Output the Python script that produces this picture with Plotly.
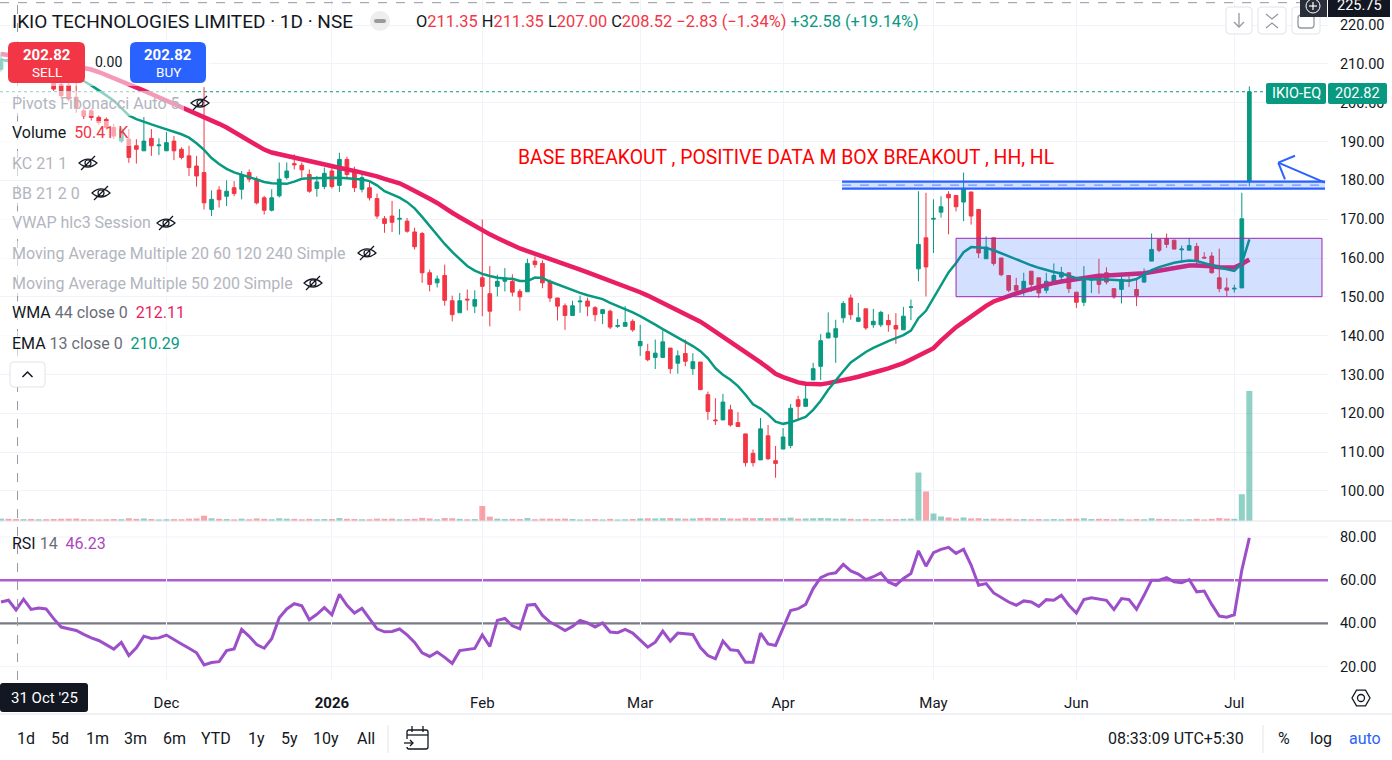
import math
import plotly.graph_objects as go
import pandas as pd

# ---------------------------------------------------------------- data
holidays = ['2025-11-05', '2025-12-25', '2026-01-15', '2026-01-26', '2026-03-03',
            '2026-03-26', '2026-03-31', '2026-04-03', '2026-04-14', '2026-05-01',
            '2026-05-28', '2026-06-26']
extra_sessions = ['2026-02-01']
_days = [d.strftime('%Y-%m-%d') for d in pd.bdate_range('2025-10-29', '2026-07-03')]
dates = sorted([d for d in _days if d not in holidays] + extra_sessions)

opens = [208.6, 211.2, 211.35, 208.5, 209.6, 207.0, 207.4, 205.2, 204.7, 204.5,
         201.4, 197.9, 197.9, 196.2, 195.7, 193.6, 190.1, 190.6, 188.9, 187.6,
         190.8, 188.9, 187.6, 190.1, 188.0, 186.3, 183.7, 182.0, 172.5, 177.5,
         175.9, 178.1, 177.7, 182.0, 180.3, 175.5, 172.3, 176.0, 180.7, 184.3,
         183.9, 181.5, 177.9, 178.4, 182.4, 178.7, 185.4, 182.7, 177.7, 178.1,
         175.3, 170.1, 170.8, 170.0, 169.5, 166.7, 166.3, 156.2, 153.6, 155.5,
         149.0, 145.9, 149.4, 147.6, 154.9, 150.8, 152.7, 154.0, 154.0, 151.4,
         151.3, 159.2, 158.6, 153.8, 149.7, 147.7, 145.2, 148.7, 148.9, 147.2,
         145.7, 146.3, 142.4, 142.4, 143.7, 137.4, 135.9, 134.4, 134.4, 136.8,
         132.9, 135.4, 131.5, 133.2, 124.8, 118.3, 118.3, 120.9, 117.6, 114.7,
         109.7, 108.0, 114.2, 107.8, 110.8, 111.7, 123.5, 121.8, 128.6, 132.1,
         139.4, 139.6, 144.6, 149.7, 143.7, 146.9, 142.8, 142.8, 143.9, 142.6,
         141.5, 147.3, 157.2, 165.2, 170.0, 171.8, 176.4, 176.1, 174.4, 177.0,
         172.5, 159.8, 165.2, 160.0, 155.5, 152.9, 151.7, 156.6, 154.9, 151.7,
         154.0, 155.1, 156.2, 151.2, 148.6, 154.3, 155.7, 156.2, 152.1, 151.9,
         154.3, 151.9, 153.8, 159.2, 164.8, 165.0, 164.6, 162.1, 162.0, 163.0,
         160.2, 160.5, 154.9, 152.3, 152.0, 152.3, 179.8]

highs = [213.0, 212.6, 211.35, 210.2, 210.0, 208.4, 207.6, 206.0, 205.5, 205.2,
         205.2, 198.5, 198.5, 196.8, 196.2, 194.5, 193.6, 193.2, 190.6, 196.3,
         193.2, 190.8, 192.4, 191.4, 188.5, 188.9, 186.3, 204.0, 177.4, 178.5,
         180.0, 179.8, 182.4, 182.8, 181.0, 176.0, 177.7, 184.6, 184.6, 186.7,
         184.6, 182.8, 181.1, 183.3, 184.2, 187.1, 186.1, 183.5, 181.5, 180.0,
         176.6, 170.8, 174.7, 172.6, 170.3, 167.8, 166.7, 157.0, 155.5, 158.3,
         150.3, 151.0, 151.9, 151.7, 169.9, 157.9, 155.7, 157.4, 155.8, 152.0,
         159.8, 160.4, 159.4, 154.5, 149.7, 148.3, 149.0, 150.3, 149.8, 147.6,
         146.9, 146.7, 144.3, 147.6, 144.2, 142.8, 137.9, 139.0, 141.4, 136.8,
         136.2, 139.0, 135.5, 133.2, 125.6, 123.9, 125.0, 122.2, 120.3, 114.7,
         110.7, 118.8, 117.0, 111.6, 116.2, 122.4, 124.5, 127.8, 133.0, 140.4,
         146.0, 144.1, 148.9, 150.6, 148.4, 146.9, 146.9, 146.4, 145.5, 145.8,
         147.4, 149.3, 177.2, 176.8, 175.1, 175.9, 177.2, 176.1, 182.0, 177.0,
         172.5, 165.6, 165.2, 160.0, 155.5, 154.9, 156.2, 156.6, 154.9, 156.2,
         158.6, 157.7, 156.2, 151.2, 157.9, 155.5, 159.8, 157.6, 152.1, 156.2,
         155.5, 154.5, 157.3, 166.3, 164.8, 166.3, 164.6, 163.2, 165.2, 163.9,
         161.5, 161.5, 162.4, 154.9, 153.1, 176.8, 204.2]

lows = [208.0, 209.8, 207.0, 207.4, 206.6, 206.2, 205.4, 203.0, 201.0, 200.3,
        197.4, 195.8, 195.4, 194.3, 193.0, 190.6, 189.6, 184.5, 184.3, 187.6,
        186.3, 186.5, 187.6, 185.2, 185.4, 181.1, 178.4, 172.5, 170.8, 173.0,
        173.4, 175.9, 175.1, 179.5, 173.8, 171.2, 172.0, 175.6, 180.2, 182.8,
        180.8, 176.8, 175.8, 177.7, 177.9, 177.0, 180.7, 177.0, 176.9, 174.8,
        170.1, 166.5, 166.7, 166.0, 166.5, 162.2, 153.6, 151.4, 152.4, 147.7,
        143.7, 145.9, 146.5, 145.8, 145.0, 142.4, 150.1, 151.4, 150.1, 146.4,
        151.3, 157.5, 152.2, 148.7, 143.9, 141.5, 145.2, 145.9, 145.0, 143.7,
        143.0, 141.7, 142.0, 142.4, 141.0, 134.8, 133.4, 131.4, 134.4, 130.2,
        130.2, 132.1, 129.9, 126.0, 118.3, 117.0, 118.3, 116.6, 116.6, 106.3,
        106.3, 108.0, 108.0, 103.4, 110.8, 111.0, 118.1, 121.8, 128.6, 128.6,
        139.4, 133.0, 143.3, 144.1, 143.5, 141.5, 142.0, 142.2, 141.0, 137.9,
        141.5, 144.0, 154.0, 150.1, 161.3, 170.4, 166.1, 172.0, 169.5, 168.6,
        160.0, 159.8, 158.0, 155.3, 151.2, 151.0, 150.3, 151.3, 149.7, 150.9,
        153.6, 153.5, 151.0, 147.1, 147.6, 151.0, 150.8, 153.2, 149.5, 148.3,
        152.5, 147.6, 153.6, 159.2, 161.5, 162.6, 162.2, 158.7, 162.0, 157.5,
        159.8, 156.0, 151.2, 150.1, 151.1, 152.3, 178.5]

closes = [211.2, 211.0, 208.52, 209.6, 207.0, 207.4, 205.8, 203.5, 201.8, 200.9,
          198.8, 196.6, 196.2, 194.9, 193.6, 191.4, 193.2, 185.9, 188.0, 190.1,
          188.9, 189.1, 189.7, 187.6, 185.9, 183.3, 181.1, 174.2, 175.1, 175.0,
          177.2, 176.6, 181.5, 180.3, 174.2, 172.3, 175.5, 180.3, 182.4, 184.0,
          182.7, 177.2, 179.6, 181.8, 178.4, 185.4, 181.5, 178.1, 180.7, 175.5,
          170.8, 168.9, 169.2, 170.2, 166.9, 162.9, 156.2, 153.2, 154.6, 149.1,
          145.4, 149.0, 149.2, 149.3, 152.7, 146.3, 154.0, 154.9, 151.2, 150.0,
          158.6, 158.3, 153.6, 149.7, 147.6, 145.2, 147.7, 148.9, 147.6, 145.4,
          146.7, 142.2, 142.6, 143.4, 141.5, 138.5, 133.8, 135.5, 138.4, 131.5,
          134.8, 133.4, 133.3, 126.1, 120.5, 118.1, 122.9, 117.0, 116.6, 107.3,
          107.3, 116.0, 108.3, 107.1, 113.9, 121.3, 121.8, 123.7, 131.5, 138.7,
          140.7, 141.8, 148.3, 145.4, 144.6, 142.0, 143.7, 146.0, 142.8, 141.7,
          145.0, 147.4, 163.5, 157.7, 170.2, 173.2, 175.5, 173.2, 177.9, 170.8,
          161.3, 162.8, 158.6, 155.7, 151.7, 151.7, 154.0, 153.2, 151.0, 154.0,
          155.5, 156.3, 152.1, 148.6, 154.2, 154.5, 153.2, 153.8, 150.0, 154.5,
          154.1, 150.3, 155.5, 162.2, 162.0, 163.5, 162.3, 162.3, 163.2, 159.4,
          160.0, 156.2, 152.1, 151.7, 152.2, 170.1, 202.82]

volumes_k = [60, 55, 50.41, 48, 52, 45, 47, 50, 55, 58,
             62, 48, 45, 42, 45, 50, 46, 70, 55, 65,
             50, 40, 45, 48, 45, 60, 65, 135, 70, 55,
             50, 42, 60, 45, 65, 55, 45, 70, 60, 55,
             45, 55, 45, 50, 50, 75, 55, 50, 45, 45,
             60, 55, 60, 45, 50, 55, 80, 65, 45, 75,
             70, 55, 45, 50, 380, 110, 60, 50, 55, 50,
             75, 45, 60, 60, 55, 60, 50, 40, 45, 50,
             40, 55, 40, 45, 50, 65, 70, 65, 70, 75,
             65, 60, 65, 75, 80, 70, 75, 65, 60, 80,
             70, 75, 70, 75, 70, 85, 60, 65, 70, 75,
             70, 60, 65, 55, 45, 55, 45, 50, 45, 50,
             55, 60, 1230, 750, 190, 115, 90, 60, 90, 65,
             70, 55, 60, 55, 60, 45, 50, 45, 50, 45,
             50, 45, 55, 60, 70, 50, 55, 50, 45, 55,
             40, 50, 45, 70, 55, 50, 45, 40, 45, 55,
             40, 55, 75, 60, 55, 680, 3300]

wma44 = [212.52, 212.31, 212.10, 211.85, 211.51, 211.18, 210.84, 210.50, 210.14, 209.81,
         209.47, 209.14, 208.54, 207.90, 207.15, 206.37, 205.60, 204.80, 203.95, 203.10,
         202.24, 201.39, 200.54, 199.72, 198.94, 198.17, 197.39, 196.52, 195.53, 194.55,
         193.60, 192.51, 191.35, 190.19, 189.03, 187.92, 187.17, 186.71, 186.24, 185.78,
         185.31, 184.88, 184.44, 183.97, 183.54, 183.17, 182.79, 182.43, 182.06, 181.63,
         181.03, 180.39, 179.79, 179.23, 178.27, 177.37, 176.31, 175.25, 174.17, 173.08,
         171.66, 170.50, 169.34, 168.16, 167.07, 166.09, 165.14, 164.15, 163.17, 162.45,
         161.78, 161.14, 160.47, 159.80, 159.12, 158.43, 157.73, 157.03, 156.28, 155.56,
         155.05, 154.30, 153.55, 152.82, 152.10, 151.18, 150.32, 149.34, 148.46, 147.56,
         146.61, 145.65, 144.67, 143.61, 142.35, 141.08, 139.82, 138.55, 137.26, 135.89,
         134.53, 133.13, 131.69, 130.20, 129.34, 128.67, 127.97, 127.64, 127.43, 127.46,
         127.77, 128.10, 128.54, 128.98, 129.42, 129.86, 130.42, 131.02, 131.59, 132.18,
         132.93, 133.86, 134.79, 135.72, 136.78, 138.71, 140.65, 142.19, 143.54, 144.96,
         146.33, 147.67, 148.80, 149.58, 150.27, 150.86, 151.46, 152.03, 152.62, 153.11,
         153.58, 153.94, 154.27, 154.63, 154.99, 155.33, 155.41, 155.48, 155.59, 155.72,
         155.79, 155.87, 156.08, 156.39, 156.72, 157.11, 157.50, 157.76, 158.04, 158.07,
         158.07, 157.89, 157.63, 157.47, 157.55, 158.45, 159.61]

ema13 = [211.10, 210.71, 210.30, 209.78, 209.24, 208.72, 208.21, 207.69, 207.15, 206.63,
         206.12, 205.57, 204.44, 203.22, 201.88, 200.52, 198.58, 196.72, 195.77, 194.99,
         194.40, 193.78, 193.19, 192.52, 191.87, 190.99, 189.55, 187.84, 185.73, 184.18,
         182.94, 182.06, 181.42, 180.78, 180.18, 179.59, 179.23, 179.07, 179.10, 179.66,
         180.39, 180.52, 180.57, 180.65, 180.70, 180.65, 180.52, 180.39, 180.21, 179.79,
         178.71, 177.21, 176.39, 175.56, 174.38, 172.77, 170.58, 168.26, 165.81, 163.61,
         161.55, 159.61, 157.93, 156.77, 155.92, 155.35, 154.89, 154.71, 154.63, 154.06,
         154.06, 154.97, 154.84, 153.94, 153.16, 152.39, 151.74, 151.02, 150.40, 149.83,
         149.42, 148.44, 147.67, 146.87, 145.99, 145.03, 144.00, 142.84, 141.68, 140.64,
         139.53, 138.45, 137.32, 136.00, 134.19, 131.61, 129.94, 128.65, 127.02, 124.77,
         122.30, 121.21, 119.74, 117.86, 117.29, 117.68, 118.32, 119.10, 120.90, 123.23,
         126.07, 128.52, 130.84, 133.09, 134.45, 135.79, 136.83, 137.78, 138.61, 139.36,
         140.13, 141.29, 144.50, 146.40, 149.80, 153.10, 156.30, 158.70, 161.50, 162.80,
         162.70, 162.60, 162.00, 161.21, 160.44, 159.67, 158.89, 158.12, 157.47, 156.88,
         156.39, 156.00, 155.49, 154.82, 154.61, 154.45, 154.45, 154.45, 154.37, 154.30,
         154.14, 154.58, 155.79, 156.90, 157.65, 158.24, 158.79, 159.10, 159.36, 159.23,
         158.74, 158.17, 157.55, 157.03, 156.67, 158.60, 164.80]

rsi14 = [49.9, 50.7, 46.23, 51.2, 46.5, 47.1, 46.7, 42.2, 38.3, 37.5,
         36.7, 34.9, 33.3, 32.1, 30.2, 28.1, 31.2, 25.1, 28.7, 34.1,
         33.0, 33.3, 34.6, 32.7, 30.5, 28.5, 26.4, 20.8, 21.9, 22.3,
         27.4, 28.2, 37.2, 34.0, 30.2, 28.5, 32.9, 42.6, 46.7, 49.1,
         48.2, 41.7, 44.2, 47.3, 44.0, 53.5, 48.4, 44.8, 47.0, 42.2,
         37.5, 36.1, 36.3, 37.4, 34.7, 31.2, 26.4, 24.7, 26.8, 24.3,
         21.5, 27.4, 27.9, 28.4, 34.7, 29.3, 41.4, 42.3, 38.9, 37.5,
         48.4, 48.8, 43.7, 40.6, 38.8, 36.7, 38.6, 41.4, 40.2, 38.3,
         40.2, 36.0, 35.7, 37.2, 35.5, 32.1, 29.0, 31.3, 36.4, 31.8,
         35.5, 35.2, 34.9, 28.8, 25.1, 23.6, 31.8, 27.8, 27.4, 22.0,
         22.0, 35.5, 30.5, 29.8, 38.3, 46.0, 46.8, 48.8, 56.1, 61.2,
         62.8, 63.4, 67.3, 64.3, 62.8, 60.3, 61.6, 63.4, 59.2, 57.7,
         60.8, 63.1, 73.6, 66.5, 72.7, 74.3, 75.2, 72.4, 74.3, 67.0,
         57.7, 58.4, 54.1, 51.9, 49.9, 48.4, 50.4, 49.9, 47.9, 51.0,
         50.7, 53.0, 48.4, 44.8, 51.0, 51.9, 51.3, 50.7, 46.4, 51.5,
         51.0, 46.5, 53.0, 60.0, 60.0, 61.2, 59.2, 58.8, 60.3, 54.6,
         55.0, 48.8, 43.4, 42.9, 44.0, 64.7, 79.6]

month_keys = ['2025-12', '2026-01', '2026-02', '2026-03', '2026-04', '2026-05', '2026-06', '2026-07']
month_labels = ['Dec', '<b>2026</b>', 'Feb', 'Mar', 'Apr', 'May', 'Jun', 'Jul']
price_ticks = [100, 110, 120, 130, 140, 150, 160, 170, 180, 190, 200, 210, 220]
rsi_ticks = [20, 40, 60, 80]
rsi_grid = [20, 80]
rsi_upper, rsi_lower = 60, 40
last_price = 202.82
crosshair_price = 225.75
crosshair_bar = 2
box_low, box_high = 150.03, 165.07
channel_low, channel_high = 177.85, 179.65

# ---------------------------------------------------------------- helpers
PW, PH = 1328, 680
FONT = 'Roboto'
DARK = '#131722'
GRAY = '#b2b5be'


def px(x):
    return x / PW


def py(y):
    return 1 - y / PH


shapes = []
ann = []


def T(x, y, text, size=16, color=DARK, xanchor='left'):
    ann.append(dict(x=px(x), y=py(y), xref='paper', yref='paper', text=text,
                    showarrow=False, xanchor=xanchor, yanchor='middle',
                    font=dict(size=size, color=color, family=FONT)))


def rect_px(x0, y0, x1, y1, fill, line='rgba(0,0,0,0)', width=0):
    shapes.append(dict(type='rect', xref='paper', yref='paper', x0=px(x0), x1=px(x1),
                       y0=py(y1), y1=py(y0), fillcolor=fill,
                       line=dict(color=line, width=width), layer='above'))


def rrect_px(x0, y0, x1, y1, r, fill, line='rgba(0,0,0,0)', width=0):
    p = lambda x, y: f'{px(x):.5f},{py(y):.5f}'
    path = (f'M {p(x0 + r, y0)} L {p(x1 - r, y0)} Q {p(x1, y0)} {p(x1, y0 + r)} '
            f'L {p(x1, y1 - r)} Q {p(x1, y1)} {p(x1 - r, y1)} L {p(x0 + r, y1)} '
            f'Q {p(x0, y1)} {p(x0, y1 - r)} L {p(x0, y0 + r)} Q {p(x0, y0)} {p(x0 + r, y0)} Z')
    shapes.append(dict(type='path', xref='paper', yref='paper', path=path, fillcolor=fill,
                       line=dict(color=line, width=width), layer='above'))


def line_px(x0, y0, x1, y1, color, width=1, dash='solid'):
    shapes.append(dict(type='line', xref='paper', yref='paper', x0=px(x0), x1=px(x1),
                       y0=py(y0), y1=py(y1), line=dict(color=color, width=width, dash=dash),
                       layer='above'))


def path_px(points, color, width=1.3, closed=False, fill='rgba(0,0,0,0)'):
    s = 'M ' + ' L '.join(f'{px(x):.5f},{py(y):.5f}' for x, y in points)
    if closed:
        s += ' Z'
    shapes.append(dict(type='path', xref='paper', yref='paper', path=s, fillcolor=fill,
                       line=dict(color=color, width=width), layer='above'))


def eye_off(cx, cy, color=DARK):
    p = lambda x, y: f'{px(x):.5f},{py(y):.5f}'
    path = (f'M {p(cx - 9, cy)} Q {p(cx, cy - 8)} {p(cx + 9, cy)} '
            f'Q {p(cx, cy + 8)} {p(cx - 9, cy)} Z')
    shapes.append(dict(type='path', xref='paper', yref='paper', path=path,
                       line=dict(color=color, width=1.2), layer='above'))
    shapes.append(dict(type='circle', xref='paper', yref='paper', x0=px(cx - 3), x1=px(cx + 3),
                       y0=py(cy + 3), y1=py(cy - 3), line=dict(color=color, width=1.2),
                       layer='above'))
    line_px(cx - 7, cy + 7, cx + 7, cy - 7, color, 1.2)


# ---------------------------------------------------------------- traces
fig = go.Figure()
is_up = [c >= o for o, c in zip(opens, closes)]
vol_colors = ['rgba(8,153,129,0.45)' if u else 'rgba(242,54,69,0.45)' for u in is_up]

fig.add_trace(go.Bar(x=dates, y=volumes_k, marker=dict(color=vol_colors, line=dict(width=0)),
                     width=0.8, xaxis='x', yaxis='y3', hoverinfo='skip'))
fig.add_trace(go.Candlestick(x=dates, open=opens, high=highs, low=lows, close=closes,
                             increasing=dict(line=dict(color='#089981', width=1), fillcolor='#089981'),
                             decreasing=dict(line=dict(color='#f23645', width=1), fillcolor='#f23645'),
                             xaxis='x', yaxis='y', hoverinfo='skip'))
fig.add_trace(go.Scatter(x=dates, y=wma44, mode='lines', line=dict(color='#e91e63', width=4.5),
                         xaxis='x', yaxis='y', hoverinfo='skip'))
fig.add_trace(go.Scatter(x=dates, y=ema13, mode='lines', line=dict(color='#089981', width=2.5),
                         xaxis='x', yaxis='y', hoverinfo='skip'))
fig.add_trace(go.Scatter(x=dates, y=rsi14, mode='lines', line=dict(color='#9c4fc9', width=3),
                         xaxis='x', yaxis='y2', hoverinfo='skip'))

# ---------------------------------------------------------------- drawings on data
BLUE = '#2962ff'
for lv in rsi_grid:
    shapes.append(dict(type='line', xref='paper', yref='y2', x0=0, x1=1, y0=lv, y1=lv,
                       line=dict(color='#f0f3fa', width=1), layer='between'))
shapes.append(dict(type='line', xref='paper', yref='y2', x0=0, x1=1, y0=rsi_upper, y1=rsi_upper,
                   line=dict(color='#b05ccc', width=2.4), layer='between'))
shapes.append(dict(type='line', xref='paper', yref='y2', x0=0, x1=1, y0=rsi_lower, y1=rsi_lower,
                   line=dict(color='#787b86', width=2.4), layer='between'))
# last price dotted line
shapes.append(dict(type='line', xref='paper', yref='y', x0=0, x1=px(1265), y0=last_price,
                   y1=last_price, line=dict(color='#089981', width=1, dash='dot'), layer='above'))
# crosshair
shapes.append(dict(type='line', xref='paper', yref='y', x0=0, x1=px(1300), y0=crosshair_price,
                   y1=crosshair_price, line=dict(color='#9598a1', width=1, dash='dash'), layer='above'))
shapes.append(dict(type='line', xref='x', yref='paper', x0=crosshair_bar + 0.2, x1=crosshair_bar + 0.2,
                   y0=0, y1=1, line=dict(color='#9598a1', width=1, dash='dash'), layer='above'))
# purple box
shapes.append(dict(type='rect', xref='x', yref='y', x0=127.0, x1=175.66, y0=box_low, y1=box_high,
                   fillcolor='rgba(41,98,255,0.2)', line=dict(color='#9c27b0', width=1), layer='above'))
# blue breakout channel
ch_x0, ch_x1 = 111.84, 176.06
shapes.append(dict(type='rect', xref='x', yref='y', x0=ch_x0, x1=ch_x1, y0=channel_low, y1=channel_high,
                   fillcolor='rgba(41,98,255,0.2)', line=dict(width=0), layer='above'))
for lv, w, d in [(channel_high, 2.2, 'solid'), (channel_low, 2.2, 'solid'),
                 ((channel_high + channel_low) / 2, 1.2, 'dash')]:
    shapes.append(dict(type='line', xref='x', yref='y', x0=ch_x0, x1=ch_x1, y0=lv, y1=lv,
                       line=dict(color=BLUE if d == 'solid' else '#6f95ff', width=w, dash=d), layer='above'))
# arrow
tip = (169.85, 184.54)
for end in [(172.07, 186.34), (170.74, 180.26), (176.06, 179.39)]:
    shapes.append(dict(type='line', xref='x', yref='y', x0=tip[0], y0=tip[1], x1=end[0], y1=end[1],
                       line=dict(color=BLUE, width=2), layer='above'))

# ---------------------------------------------------------------- legend fade backgrounds
FADE = 'rgba(255,255,255,0.55)'
for (x0, y0, x1, y1) in [(0, 40, 210, 86), (0, 91, 184, 116), (0, 121, 134, 146),
                         (0, 151, 100, 176), (0, 181, 112, 206), (0, 211, 178, 236),
                         (0, 241, 378, 266), (0, 271, 325, 296), (0, 301, 182, 326),
                         (0, 331, 178, 356)]:
    rect_px(x0, y0, x1, y1, FADE)

# pane separators
line_px(0, 521, 1392, 521, '#e0e3eb', 1)
line_px(0, 714, 1392, 714, '#e0e3eb', 1)

# ---------------------------------------------------------------- header
T(10, 21, 'IKIO TECHNOLOGIES LIMITED · 1D · NSE', 19)
shapes.append(dict(type='circle', xref='paper', yref='paper', x0=px(370), x1=px(390), y0=py(31),
                   y1=py(11), fillcolor='#eeeeee', line=dict(width=0), layer='above'))
rrect_px(374, 19, 386, 23, 2, '#9b9b9b')
R = '#f23645'
G = '#089981'
T(414, 21, f'O<span style="color:{R}">211.35</span> H<span style="color:{R}">211.35</span> '
           f'L<span style="color:{R}">207.00</span> C<span style="color:{R}">208.52</span> '
           f'<span style="color:{R}">−2.83 (−1.34%)</span> '
           f'<span style="color:{G}">+32.58 (+19.14%)</span>', 16.4)

# top right buttons
for (x0, x1) in [(1226, 1252), (1258, 1286), (1292, 1320)]:
    rrect_px(x0, 7, x1, 34, 4, 'white', '#e0e3eb', 1)
path_px([(1239, 13), (1239, 27)], '#9598a1', 1.3)
path_px([(1234, 22), (1239, 27), (1244, 22)], '#9598a1', 1.3)
path_px([(1266, 14), (1272, 19), (1278, 14)], '#9598a1', 1.3)
path_px([(1266, 28), (1272, 23), (1278, 28)], '#9598a1', 1.3)
rrect_px(1298, 15, 1314, 28, 3, 'rgba(0,0,0,0)', '#9598a1', 1.3)
# crosshair price label (partly above the top edge, as in the screenshot)
rect_px(1300, -6, 1327, 17, '#2a2e39')
shapes.append(dict(type='circle', xref='paper', yref='paper', x0=px(1306), x1=px(1320), y0=py(13),
                   y1=py(-1), line=dict(color='white', width=1), layer='above'))
path_px([(1309, 6), (1317, 6)], 'white', 1.2)
path_px([(1313, 2), (1313, 10)], 'white', 1.2)
rect_px(1328, -6, 1390, 17, DARK)
T(1359, 6, f'{crosshair_price:.2f}', 14.5, 'white', 'center')

# last price labels
rrect_px(1266, 83, 1326, 104, 2, '#089981')
T(1296, 93.5, 'IKIO-EQ', 14.5, 'white', 'center')
rrect_px(1328, 83, 1387, 104, 2, '#089981')
T(1357, 93.5, f'{last_price:.2f}', 14.5, 'white', 'center')

# SELL / BUY
rrect_px(8, 42, 85, 83, 6, '#f23645')
T(47, 55, '<b>202.82</b>', 15, 'white', 'center')
T(47, 72, 'SELL', 13.5, 'white', 'center')
T(108, 62, '0.00', 14, DARK, 'center')
rrect_px(130, 42, 206, 83, 6, '#2962ff')
T(168, 55, '<b>202.82</b>', 15, 'white', 'center')
T(168, 72, 'BUY', 13.5, 'white', 'center')

# legend rows
MID = '#6a6d78'
T(10, 103, 'Pivots Fibonacci Auto 5', 16, GRAY)
eye_off(200, 103)
T(10, 133, f'Volume  <span style="color:{R}">50.41 K</span>', 16)
T(10, 163, 'KC 21 1', 16, GRAY)
eye_off(88, 163)
T(10, 193, 'BB 21 2 0', 16, GRAY)
eye_off(101, 193)
T(10, 223, 'VWAP hlc3 Session', 16, GRAY)
eye_off(166, 223)
T(10, 253, 'Moving Average Multiple 20 60 120 240 Simple', 16, GRAY)
eye_off(367, 253)
T(10, 283, 'Moving Average Multiple 50 200 Simple', 16, GRAY)
eye_off(313, 283)
T(10, 313, f'WMA <span style="color:{MID}">44 close 0</span>\u00a0 <span style="color:#e91e63">212.11</span>', 16)
T(10, 343, f'EMA <span style="color:{MID}">13 close 0</span>\u00a0 <span style="color:#089981">210.29</span>', 16)
rrect_px(10, 362, 45, 387, 4, 'white', '#e0e3eb', 1)
path_px([(22.5, 377), (27.5, 372), (32.5, 377)], DARK, 1.5)

# breakout text
T(516, 157, 'BASE BREAKOUT , POSITIVE DATA M BOX BREAKOUT , HH, HL', 19.4, '#ff0000')

# RSI legend
T(10, 543, f'RSI <span style="color:{MID}">14</span>\u00a0 <span style="color:#ab47bc">46.23</span>', 16)

# time axis crosshair label
rrect_px(0, 683, 88, 712, 3, DARK)
T(44, 698, "31 Oct '25", 15, 'white', 'center')

# settings hexagon
hx, hy = 1361, 698
path_px([(hx + 9 * math.cos(math.radians(a)), hy + 9 * math.sin(math.radians(a)))
         for a in range(0, 360, 60)], DARK, 1.3, closed=True)
shapes.append(dict(type='circle', xref='paper', yref='paper', x0=px(hx - 3.5), x1=px(hx + 3.5),
                   y0=py(hy + 3.5), y1=py(hy - 3.5), line=dict(color=DARK, width=1.3), layer='above'))

# bottom toolbar
for x, lab in [(26, '1d'), (60, '5d'), (97, '1m'), (135, '3m'), (174, '6m'), (216, 'YTD'),
               (256, '1y'), (289, '5y'), (326, '10y'), (366, 'All')]:
    T(x, 739, lab, 16, DARK, 'center')
line_px(388, 725, 388, 753, '#e0e3eb', 1)
rrect_px(407, 730, 428, 749, 2, 'rgba(0,0,0,0)', DARK, 1.3)
line_px(407, 735, 428, 735, DARK, 1.3)
line_px(412, 726, 412, 732, DARK, 1.3)
line_px(423, 726, 423, 732, DARK, 1.3)
rect_px(404, 739, 414, 747, 'white')
path_px([(404, 743), (413, 743)], DARK, 1.3)
path_px([(410, 740), (413, 743), (410, 746)], DARK, 1.3)
T(1176, 739, '08:33:09 UTC+5:30', 16, DARK, 'center')
line_px(1263, 725, 1263, 753, '#e0e3eb', 1)
T(1284, 739, '%', 16, DARK, 'center')
T(1321, 739, 'log', 16, DARK, 'center')
T(1365, 739, 'auto', 16, '#2962ff', 'center')

# ---------------------------------------------------------------- layout
tick_dates = [next(d for d in dates if d.startswith(k)) for k in month_keys]
GRID = '#f0f3fa'
fig.update_layout(
    width=1392, height=760,
    margin=dict(l=0, r=64, t=0, b=80),
    paper_bgcolor='white', plot_bgcolor='white',
    showlegend=False, hovermode=False,
    font=dict(family=FONT, size=15, color=DARK),
    xaxis=dict(type='category', range=[-0.133, 176.46], anchor='y2', domain=[0, 1],
               rangeslider=dict(visible=False), tickmode='array', tickvals=tick_dates,
               ticktext=month_labels, showgrid=True, gridcolor=GRID, gridwidth=1,
               ticks='outside', ticklen=9, tickcolor='rgba(0,0,0,0)',
               tickfont=dict(size=15, color=DARK), zeroline=False, showline=False),
    yaxis=dict(domain=[(PH - 521) / PH, 1], range=[92.27, 226.44], side='right',
               tickmode='array', tickvals=price_ticks, ticktext=[f'{v:.2f}' for v in price_ticks],
               showgrid=True, gridcolor=GRID, ticks='outside', ticklen=8,
               tickcolor='rgba(0,0,0,0)', tickfont=dict(size=14.5, color=DARK),
               zeroline=False, showline=False),
    yaxis2=dict(domain=[0, (PH - 521) / PH], range=[13.8, 87.4], side='right',
                tickmode='array', tickvals=rsi_ticks, ticktext=[f'{v:.2f}' for v in rsi_ticks],
                showgrid=False, ticks='outside', ticklen=8,
                tickcolor='rgba(0,0,0,0)', tickfont=dict(size=14.5, color=DARK),
                zeroline=False, showline=False),
    yaxis3=dict(overlaying='y', range=[0, 13225], visible=False, showgrid=False),
    shapes=shapes, annotations=ann,
)

fig.write_html('out.html', config={'displayModeBar': False})
